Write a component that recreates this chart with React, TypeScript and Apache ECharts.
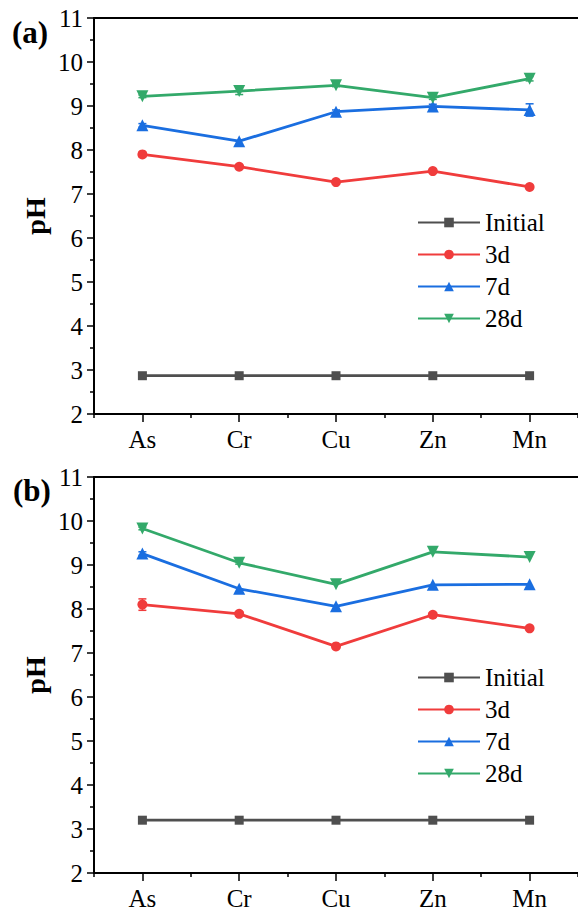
import React, { useEffect, useRef } from "react";
import * as echarts from "echarts";

const categories = ["As", "Cr", "Cu", "Zn", "Mn"];
const seriesNames = ["Initial", "3d", "7d", "28d"];
const yTicks = { min: 2, max: 11, interval: 1 };

// Panel (a)
const aInitial = [2.87, 2.87, 2.87, 2.87, 2.87];
const a3d = [7.9, 7.62, 7.27, 7.52, 7.16];
const a7d = [8.56, 8.2, 8.87, 8.99, 8.91];
const a28d = [9.22, 9.34, 9.47, 9.19, 9.62];
const aErrInitial = [0, 0, 0, 0, 0];
const aErr3d = [0.05, 0, 0, 0, 0];
const aErr7d = [0.04, 0, 0.04, 0.05, 0.14];
const aErr28d = [0.03, 0.08, 0.03, 0.04, 0.05];

// Panel (b)
const bInitial = [3.2, 3.2, 3.2, 3.2, 3.2];
const b3d = [8.1, 7.89, 7.15, 7.87, 7.56];
const b7d = [9.26, 8.46, 8.06, 8.55, 8.56];
const b28d = [9.83, 9.05, 8.56, 9.3, 9.18];
const bErrInitial = [0, 0, 0, 0, 0];
const bErr3d = [0.13, 0, 0, 0, 0];
const bErr7d = [0.04, 0, 0, 0, 0];
const bErr28d = [0.03, 0.03, 0, 0, 0];

const colors = ["#4f4f4f", "#f03c3c", "#1a6ee0", "#33a96a"];
const symbols = ["rect", "circle", "triangle", "path://M0,0 L10,0 L5,9 Z"];
const symbolSizes = [9, 10, 12, 12];

const FONT = "Liberation Serif, DejaVu Serif, serif";

export default function App() {
  const ref = useRef<HTMLDivElement>(null);
  useEffect(() => {
    if (!ref.current) return;
    const chart = echarts.init(ref.current, null, { renderer: "svg" });

    const grids = [
      { left: 94, top: 18, width: 492, height: 396 },
      { left: 94, top: 477, width: 492, height: 396 },
    ];
    const panels = [
      { values: [aInitial, a3d, a7d, a28d], errs: [aErrInitial, aErr3d, aErr7d, aErr28d] },
      { values: [bInitial, b3d, b7d, b28d], errs: [bErrInitial, bErr3d, bErr7d, bErr28d] },
    ];

    const labelStyle = { color: "#000", fontSize: 25, fontFamily: FONT, fontWeight: "normal" as const };

    const xAxes: any[] = [];
    const yAxes: any[] = [];
    const series: any[] = [];
    grids.forEach((_, gi) => {
      xAxes.push({
        type: "category",
        gridIndex: gi,
        data: categories,
        boundaryGap: true,
        position: "bottom",
        axisLine: { show: true, lineStyle: { color: "#000", width: 2 } },
        axisTick: { show: true, alignWithLabel: true, length: 8, lineStyle: { color: "#000", width: 1.5 } },
        axisLabel: { ...labelStyle, margin: 13 },
        splitLine: { show: false },
      });
      xAxes.push({
        type: "category",
        gridIndex: gi,
        data: categories,
        boundaryGap: true,
        position: "bottom",
        axisLine: { show: false },
        axisTick: { show: true, alignWithLabel: false, length: 4, lineStyle: { color: "#000", width: 1.5 } },
        axisLabel: { show: false },
        splitLine: { show: false },
      });
      xAxes.push({
        type: "category",
        gridIndex: gi,
        data: categories,
        position: "top",
        axisLine: { show: true, lineStyle: { color: "#000", width: 2 } },
        axisTick: { show: false },
        axisLabel: { show: false },
        splitLine: { show: false },
      });
      yAxes.push({
        type: "value",
        gridIndex: gi,
        min: yTicks.min,
        max: yTicks.max,
        interval: yTicks.interval,
        axisLine: { show: true, lineStyle: { color: "#000", width: 2 } },
        axisTick: { show: true, length: 7, lineStyle: { color: "#000", width: 1.5 } },
        minorTick: { show: true, splitNumber: 2, length: 4, lineStyle: { color: "#000", width: 1.5 } },
        axisLabel: { ...labelStyle, margin: 11 },
        splitLine: { show: false },
        minorSplitLine: { show: false },
      });

      const p = panels[gi];
      seriesNames.forEach((name, si) => {
        const errData: any[] = [];
        p.errs[si].forEach((e, i) => {
          if (e > 0) errData.push([i, p.values[si][i] - e, p.values[si][i] + e]);
        });
        if (errData.length) {
          series.push({
            type: "custom",
            name: name + "-err" + gi,
            xAxisIndex: gi * 3,
            yAxisIndex: gi,
            z: 2 + si,
            encode: { x: 0, y: [1, 2] },
            data: errData,
            renderItem: (params: any, api: any) => {
              const x = api.value(0);
              const lo = api.coord([x, api.value(1)]);
              const hi = api.coord([x, api.value(2)]);
              const w = 4;
              const st = { stroke: colors[si], lineWidth: 1.5 };
              return {
                type: "group",
                children: [
                  { type: "line", shape: { x1: lo[0], y1: lo[1], x2: hi[0], y2: hi[1] }, style: st },
                  { type: "line", shape: { x1: lo[0] - w, y1: lo[1], x2: lo[0] + w, y2: lo[1] }, style: st },
                  { type: "line", shape: { x1: hi[0] - w, y1: hi[1], x2: hi[0] + w, y2: hi[1] }, style: st },
                ],
              };
            },
          });
        }
        series.push({
          type: "line",
          name,
          xAxisIndex: gi * 3,
          yAxisIndex: gi,
          data: p.values[si],
          symbol: symbols[si],
          symbolSize: symbolSizes[si],
          showSymbol: true,
          z: 3 + si,
          lineStyle: { color: colors[si], width: 2.8 },
          itemStyle: { color: colors[si] },
        });
      });
    });

    const legendBase = {
      orient: "vertical",
      left: 417,
      padding: 0,
      itemWidth: 62,
      itemHeight: 12,
      itemGap: 7,
      data: seriesNames,
      selectedMode: false,
      textStyle: { ...labelStyle, lineHeight: 24 },
    };

    chart.setOption({
      animation: false,
      backgroundColor: "#fff",
      textStyle: { fontFamily: FONT },
      grid: grids,
      xAxis: xAxes,
      yAxis: yAxes,
      legend: [
        { ...legendBase, top: 210 },
        { ...legendBase, top: 665 },
      ],
      graphic: [
        { type: "text", left: 12, top: 17, style: { text: "(a)", fontWeight: "bold", fontSize: 31, fontFamily: FONT, fill: "#000" } },
        { type: "text", left: 13, top: 475, style: { text: "(b)", fontWeight: "bold", fontSize: 31, fontFamily: FONT, fill: "#000" } },
        {
          type: "text",
          x: 35,
          y: 216,
          rotation: Math.PI / 2,
          style: { text: "pH", fontWeight: "bold", fontSize: 28, fontFamily: FONT, fill: "#000", align: "center", verticalAlign: "middle" },
        },
        {
          type: "text",
          x: 35,
          y: 675,
          rotation: Math.PI / 2,
          style: { text: "pH", fontWeight: "bold", fontSize: 28, fontFamily: FONT, fill: "#000", align: "center", verticalAlign: "middle" },
        },
      ],
      series,
    });
    return () => chart.dispose();
  }, []);
  return (
    <div
      ref={ref}
      style={{ position: "fixed", left: 0, top: 0, width: 578, height: 913 }}
    />
  );
}
